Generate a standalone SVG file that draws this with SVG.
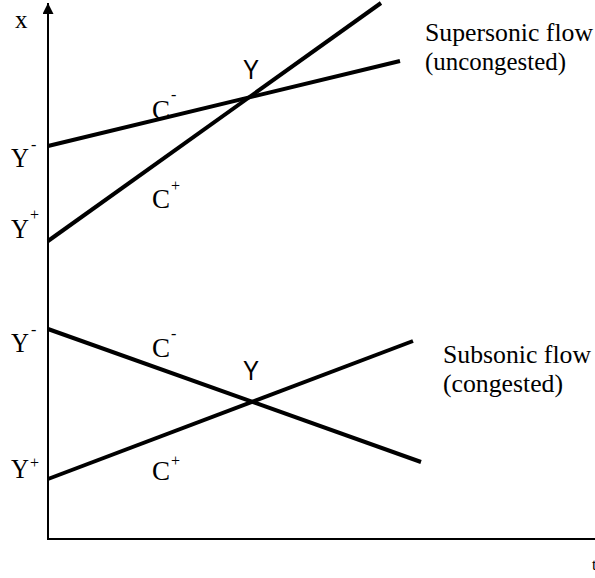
<svg xmlns="http://www.w3.org/2000/svg" width="595" height="578" viewBox="0 0 595 578">
<style>
.ax{stroke:#000;stroke-width:2;fill:none}
.ln{stroke:#000;stroke-width:4;fill:none;stroke-linecap:butt}
.s{font-family:"Liberation Serif","Times New Roman",serif;fill:#000}
.ss{font-family:"Liberation Sans",Arial,sans-serif;fill:#000}
.big{font-size:27px}
.sup{font-size:16px}
.lbl{font-size:25px}
</style>
<defs>
<marker id="ah" viewBox="0 0 10 10" refX="10" refY="5" markerWidth="11" markerHeight="11" markerUnits="userSpaceOnUse" orient="auto">
<path d="M0,0 L10,5 L0,10 Z" fill="#000"/>
</marker>
</defs>
<g id="axes">
<line class="ax" x1="48" y1="539" x2="48" y2="3" marker-end="url(#ah)"/>
<line class="ax" x1="47" y1="539" x2="595" y2="539"/>
<text class="s" x="15" y="28" style="font-size:25px">x</text>
<text class="s" x="592" y="570" style="font-size:16px">t</text>
</g>
<g id="connectors">
<line class="ln" x1="48" y1="146" x2="400" y2="61"/>
<line class="ln" x1="48" y1="241" x2="381" y2="3"/>
<line class="ln" x1="48" y1="329" x2="421" y2="462"/>
<line class="ln" x1="48" y1="479" x2="413" y2="341"/>
</g>
<g id="supersonic">
<text class="s big" x="11" y="167" textLength="18" lengthAdjust="spacingAndGlyphs">Y</text><text class="s sup" x="31" y="150">-</text>
<text class="s big" x="11" y="238" textLength="18" lengthAdjust="spacingAndGlyphs">Y</text><text class="s sup" x="30" y="220">+</text>
<text class="s big" x="152" y="119">C</text><text class="s sup" x="171" y="100">-</text>
<text class="s big" x="152" y="208">C</text><text class="s sup" x="171" y="191">+</text>
<text class="ss big" x="243" y="79" textLength="16" lengthAdjust="spacingAndGlyphs">Y</text>
<text class="s lbl" x="425" y="41" textLength="168" lengthAdjust="spacingAndGlyphs">Supersonic flow</text>
<text class="s lbl" x="425" y="70" textLength="141" lengthAdjust="spacingAndGlyphs">(uncongested)</text>
</g>
<g id="subsonic">
<text class="s big" x="11" y="352" textLength="18" lengthAdjust="spacingAndGlyphs">Y</text><text class="s sup" x="31" y="335">-</text>
<text class="s big" x="11" y="478" textLength="18" lengthAdjust="spacingAndGlyphs">Y</text><text class="s sup" x="30" y="468">+</text>
<text class="s big" x="152" y="357">C</text><text class="s sup" x="171" y="339">-</text>
<text class="s big" x="152" y="480">C</text><text class="s sup" x="171" y="466">+</text>
<text class="ss big" x="243" y="380" textLength="16" lengthAdjust="spacingAndGlyphs">Y</text>
<text class="s lbl" x="443" y="363" textLength="148" lengthAdjust="spacingAndGlyphs">Subsonic flow</text>
<text class="s lbl" x="443" y="392" textLength="120" lengthAdjust="spacingAndGlyphs">(congested)</text>
</g>
</svg>
